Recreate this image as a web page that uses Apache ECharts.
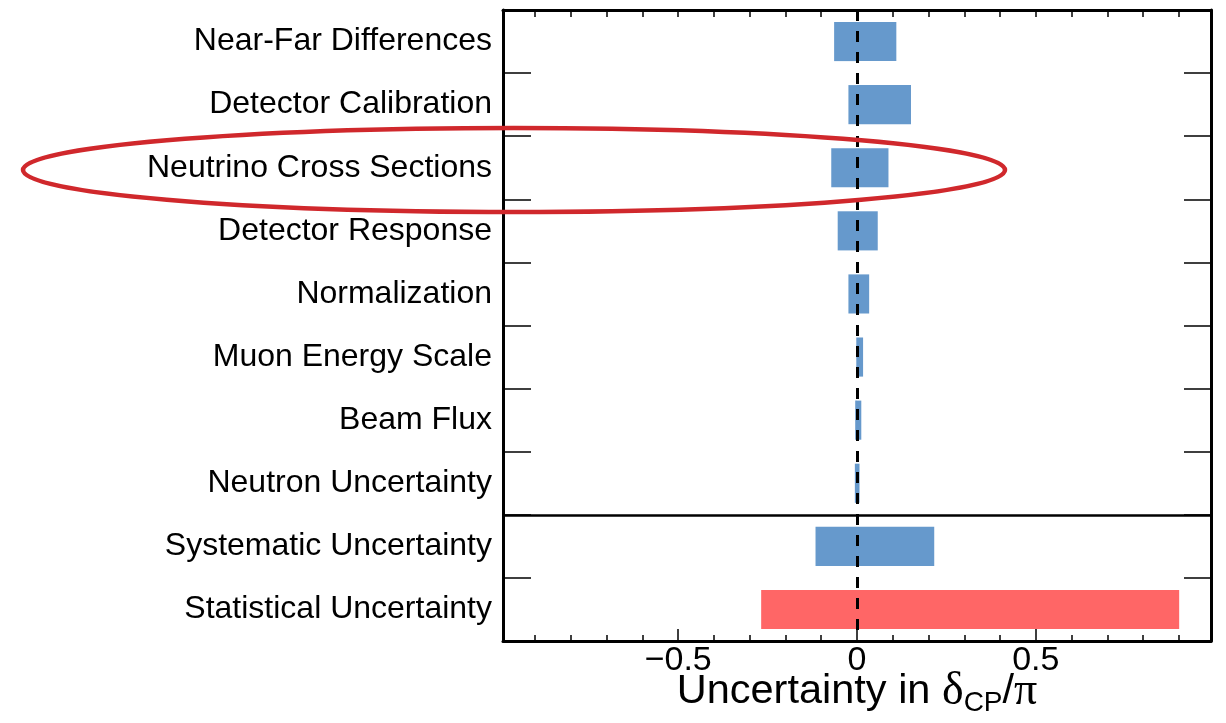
<!DOCTYPE html>
<html>
<head>
<meta charset="utf-8">
<script src="https://cdn.jsdelivr.net/npm/echarts@6/dist/echarts.min.js"></script>
<style>
  html, body { margin: 0; padding: 0; background: #ffffff; }
  #chart { width: 1226px; height: 723px; }
</style>
</head>
<body>
<div id="chart"></div>
<script>
// Sources of uncertainty, top to bottom
const categories = [
  'Near-Far Differences',
  'Detector Calibration',
  'Neutrino Cross Sections',
  'Detector Response',
  'Normalization',
  'Muon Energy Scale',
  'Beam Flux',
  'Neutron Uncertainty',
  'Systematic Uncertainty',
  'Statistical Uncertainty'
];

// Lower / upper shift in delta_CP / pi for each source
const lowerShift = [-0.064, -0.024, -0.072, -0.054, -0.024, -0.002, -0.005, -0.006, -0.116, -0.268];
const upperShift = [0.110, 0.151, 0.088, 0.058, 0.034, 0.017, 0.012, 0.007, 0.216, 0.901];

// x-axis ticks and their labels
const xMajorTicks = [-0.5, 0, 0.5];
const xMajorLabels = ['\u22120.5', '0', '0.5'];
const xMinorTicks = [-0.9, -0.8, -0.7, -0.6, -0.4, -0.3, -0.2, -0.1, 0.1, 0.2, 0.3, 0.4, 0.6, 0.7, 0.8, 0.9];
const xAllTicks = [-0.9, -0.8, -0.7, -0.6, -0.5, -0.4, -0.3, -0.2, -0.1, 0, 0.1, 0.2, 0.3, 0.4, 0.5, 0.6, 0.7, 0.8, 0.9];

// Line between the individual sources and the totals (in category rows from the top)
const totalsSeparator = 8;

const X_MIN = -0.99, X_MAX = 0.99;
const BLUE = '#6699cc';
const RED = '#ff6666';
const FONT = '"Liberation Sans", Arial, Helvetica, sans-serif';
const SERIF = '"Liberation Serif", "DejaVu Serif", serif';

function barColor(params) {
  return params.name === 'Statistical Uncertainty' ? RED : BLUE;
}

const frameLine = { show: true, onZero: false, lineStyle: { color: '#000', width: 3 } };

const chart = echarts.init(document.getElementById('chart'), null, { renderer: 'canvas' });

chart.setOption({
  animation: false,
  backgroundColor: '#ffffff',
  grid: { left: 503, right: 15, top: 10, bottom: 82, containLabel: false, outerBoundsMode: 'none' },
  xAxis: [
    {
      type: 'value', position: 'bottom', min: X_MIN, max: X_MAX,
      axisLine: frameLine,
      axisTick: { show: true, inside: true, length: 12, customValues: xMajorTicks,
                  lineStyle: { color: '#000', width: 1.5 } },
      axisLabel: {
        show: true, customValues: xMajorTicks, margin: 3,
        color: '#000', fontFamily: FONT, fontSize: 34,
        formatter: function (v) {
          const i = xMajorTicks.findIndex(t => Math.abs(t - v) < 1e-9);
          return i >= 0 ? xMajorLabels[i] : '';
        }
      },
      splitLine: { show: false },
      name: '{t|Uncertainty in }{g|\u03b4}{s|CP}{t|/}{g|\u03c0}',
      nameLocation: 'middle',
      nameGap: 26,
      nameMoveOverlap: false,
      nameTextStyle: {
        color: '#000',
        rich: {
          t: { fontFamily: FONT, fontSize: 41.5, color: '#000' },
          g: { fontFamily: SERIF, fontSize: 46, color: '#000' },
          s: { fontFamily: FONT, fontSize: 28, color: '#000', padding: [22, 0, 0, 0] }
        }
      }
    },
    {
      type: 'value', position: 'bottom', min: X_MIN, max: X_MAX,
      axisLine: { show: false, onZero: false },
      axisTick: { show: true, inside: true, length: 6, customValues: xMinorTicks,
                  lineStyle: { color: '#000', width: 1.5 } },
      axisLabel: { show: false },
      splitLine: { show: false }
    },
    {
      type: 'value', position: 'top', min: X_MIN, max: X_MAX,
      axisLine: frameLine,
      axisTick: { show: true, inside: true, length: 7, customValues: xAllTicks,
                  lineStyle: { color: '#000', width: 1.5 } },
      axisLabel: { show: false },
      splitLine: { show: false }
    }
  ],
  yAxis: [
    {
      type: 'category', position: 'left', inverse: true, data: categories,
      axisLine: frameLine,
      axisTick: { show: true, inside: true, length: 28, lineStyle: { color: '#000', width: 1.5 } },
      axisLabel: { color: '#000', fontFamily: FONT, fontSize: 32, margin: 11, padding: [3, 0, 0, 0] },
      splitLine: { show: false }
    },
    {
      type: 'value', position: 'right', inverse: true, min: 0, max: categories.length, interval: 1,
      axisLine: frameLine,
      axisTick: { show: true, inside: true, length: 27, lineStyle: { color: '#000', width: 1.5 } },
      axisLabel: { show: false },
      splitLine: { show: false }
    }
  ],
  series: [
    {
      name: 'lower', type: 'bar', xAxisIndex: 0, yAxisIndex: 0,
      data: lowerShift, barWidth: '62%', barGap: '-100%',
      itemStyle: { color: barColor },
      silent: true, z: 2
    },
    {
      name: 'upper', type: 'bar', xAxisIndex: 0, yAxisIndex: 0,
      data: upperShift, barWidth: '62%', barGap: '-100%',
      itemStyle: { color: barColor },
      silent: true, z: 2
    },
    {
      // dashed line at zero shift
      name: 'zero', type: 'line', xAxisIndex: 0, yAxisIndex: 0, data: [], z: 10,
      markLine: {
        silent: true, symbol: ['none', 'none'], label: { show: false },
        lineStyle: { color: '#000', width: 3, type: [11, 10] },
        data: [{ xAxis: 0 }]
      }
    },
    {
      // divider above the total uncertainties
      name: 'divider', type: 'line', xAxisIndex: 0, yAxisIndex: 1, data: [], z: 10,
      markLine: {
        silent: true, symbol: ['none', 'none'], label: { show: false },
        lineStyle: { color: '#000', width: 2.5, type: 'solid' },
        data: [{ yAxis: totalsSeparator }]
      }
    }
  ],
  graphic: [
    {
      type: 'ellipse', silent: true, z: 100,
      shape: { cx: 514, cy: 170, rx: 491, ry: 42 },
      style: { fill: 'none', stroke: '#d0282c', lineWidth: 4.5 }
    }
  ]
});
</script>
</body>
</html>
